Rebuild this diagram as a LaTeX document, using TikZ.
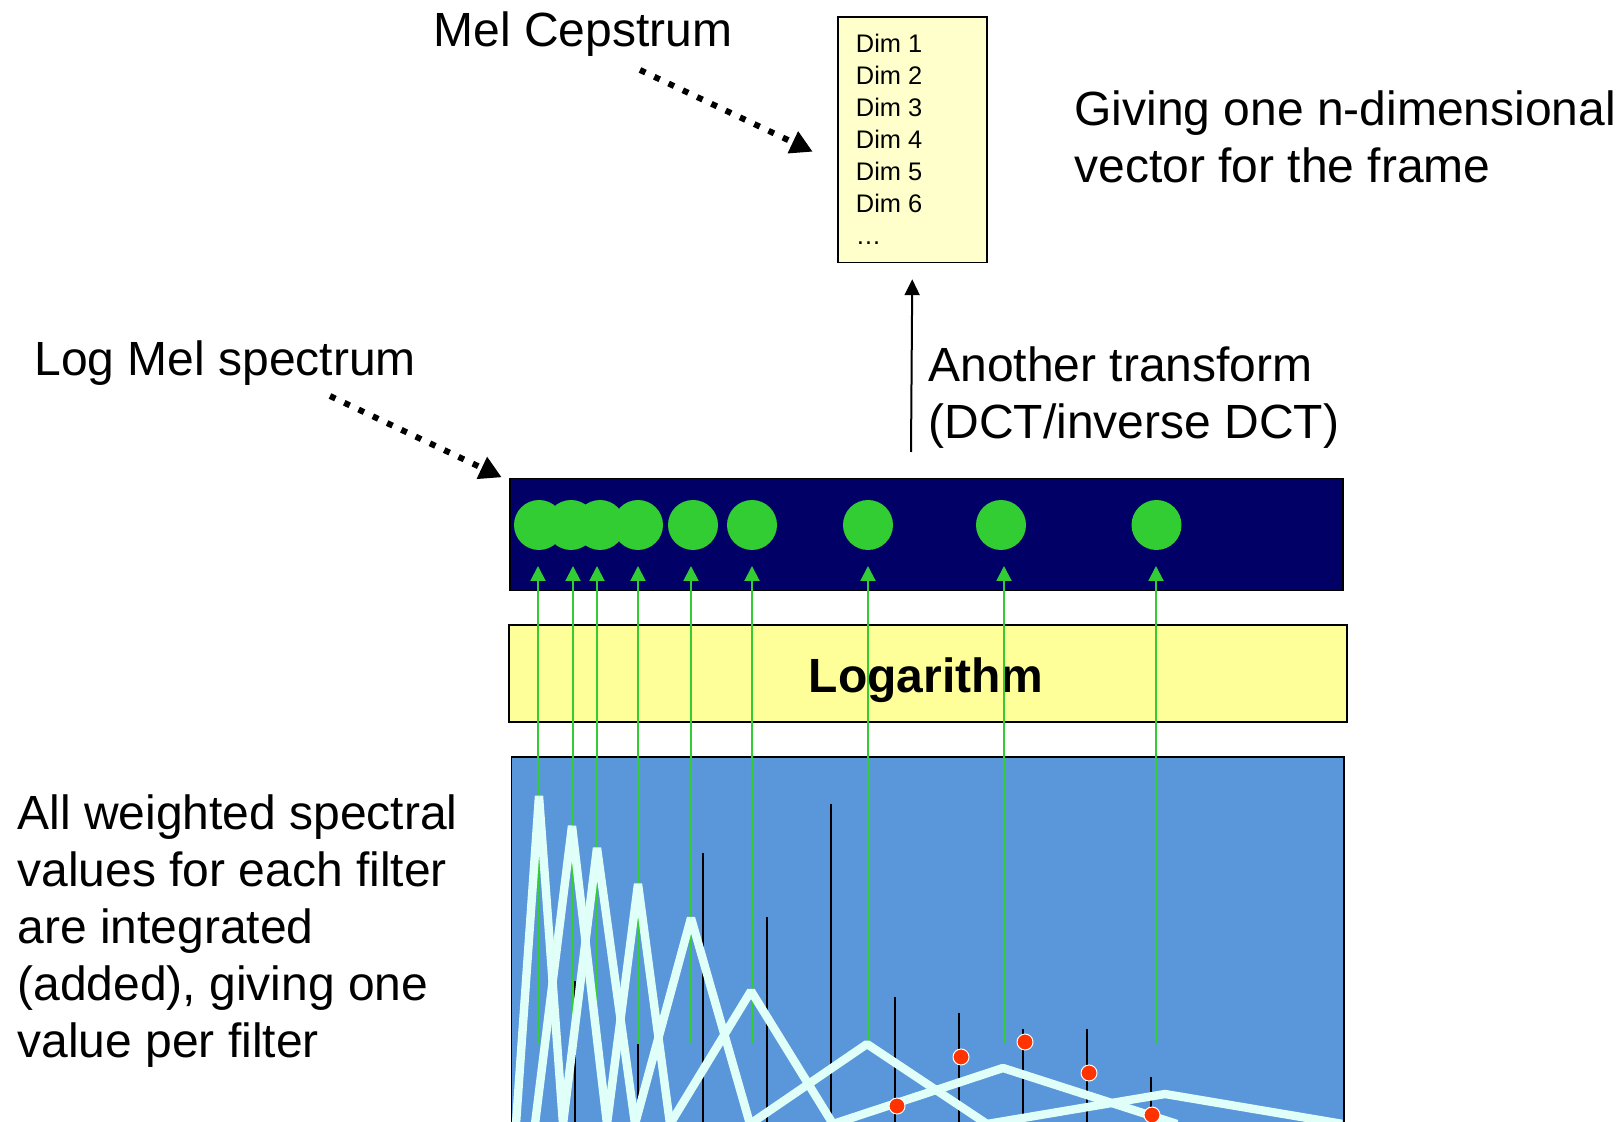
\documentclass[tikz,border=0pt]{standalone}
\usepackage{fontspec}
\setmainfont{Liberation Sans}
\usetikzlibrary{arrows.meta}
\definecolor{navybox}{RGB}{0,0,102}
\definecolor{limeg}{RGB}{50,205,50}
\definecolor{logyel}{RGB}{255,255,153}
\definecolor{cepyel}{RGB}{255,255,204}
\definecolor{specblue}{RGB}{89,150,218}
\definecolor{filtc}{RGB}{224,255,248}
\definecolor{dotred}{RGB}{255,51,0}
\begin{document}
\begin{tikzpicture}[x=0.5pt,y=-0.5pt,
  lbl/.style={font=\fontsize{24}{28.5}\selectfont, inner sep=0pt, align=left, anchor=base west},
  panel/.style={draw=black, line width=0.75pt, anchor=north west, inner sep=0pt},
  dotarrow/.style={line width=3pt, dash pattern=on 3pt off 4.9pt, -{Triangle[length=11pt,width=11.5pt]}},
  thinarrow/.style={line width=1pt, -{Triangle[length=8pt,width=7.5pt]}},
  garrow/.style={draw=limeg, line width=1pt, -{Triangle[length=7.5pt,width=7.5pt]}},
  gdot/.style={circle, fill=limeg, minimum size=25pt, inner sep=0pt},
  rdot/.style={circle, fill=dotred, draw=white, line width=0.5pt, minimum size=8pt, inner sep=0pt},
  specline/.style={draw=black, line width=0.9pt},
  filter/.style={draw=filtc, line width=4.2pt, line join=bevel}]
\fill[white] (0,0) rectangle (1622,1122);
\useasboundingbox (0,0) rectangle (1622,1122);

% labels (base anchor = baseline of last line)
\node[lbl] (melcep) at (433,46.5) {Mel Cepstrum};
\node[lbl] (logmel) at (34,376) {Log Mel spectrum};
\node[lbl] (giving) at (1074,182.5) {Giving one n-dimensional\\vector for the frame};
\node[lbl] (another) at (928,439) {Another transform\\(DCT/inverse DCT)};
\node[lbl] (allw) at (17,1057) {All weighted spectral\\values for each filter\\are integrated\\(added), giving one\\value per filter};

% cepstrum box
\node[panel, fill=cepyel, minimum width=74.5pt, minimum height=122.6pt] (cep) at (837,16.5) {};
\node[inner sep=0pt, align=left, anchor=base west, font=\fontsize{12.7}{16}\selectfont] (dims) at (855.5,245)
  {Dim 1\\Dim 2\\Dim 3\\Dim 4\\Dim 5\\Dim 6\\\dots};

% panels
\node[panel, fill=navybox, minimum width=416.5pt, minimum height=56pt] (melband) at (509,478) {};
\node[panel, fill=logyel, minimum width=419pt, minimum height=48.5pt] (logbox) at (508,624) {};
\node[lbl, font=\fontsize{24}{28.5}\selectfont\bfseries] (logtxt) at (808.5,692) {Logarithm};
\node[panel, fill=specblue, minimum width=416.15pt, minimum height=200pt] (spec) at (510.7,756) {};

% dotted arrows
\coordinate (mcs) at (640,70);
\coordinate (mce) at (812.7,151.7);
\draw[dotarrow] (mcs) -- (mce);
\coordinate (lms) at (330,396);
\coordinate (lme) at (501.7,477.3);
\draw[dotarrow] (lms) -- (lme);

% transform arrow
\coordinate (tstart) at (911,452);
\draw[thinarrow] (tstart) -- ([yshift=-8pt]cep.south);

% spectral sample lines
\begin{scope}
\clip (511,757) rectangle (1342.5,1122);
\foreach \x/\t in {575/981,638/917,703/853,767/917,831/804,895/997,959/1013,1023/1029,1087/1029,1151/1077}
  \draw[specline] (\x,\t) -- (\x,1140);
\end{scope}

% green outputs
\foreach \i/\x/\lx in {1/539/538,2/571/573,3/600/597,4/638/638,5/693/691,6/752/752,7/868/868,8/1001/1004,9/1156.5/1156}{
  \node[gdot] (c\i) at (\x,525) {};
  \coordinate (b\i) at (\lx,1044);
  \draw[garrow] (b\i) -- (\lx,566);
}

% filters
\begin{scope}
\clip (511,757) rectangle (1342.5,1122);
\draw[filter] (516,1124) -- (539,796) -- (563,1124);
\draw[filter] (535,1124) -- (572,826) -- (607,1124);
\draw[filter] (563,1124) -- (597,848) -- (635,1124);
\draw[filter] (607,1124) -- (638,884) -- (670,1124);
\draw[filter] (635,1124) -- (691,918) -- (750,1124);
\draw[filter] (670,1124) -- (751,991) -- (833,1124);
\draw[filter] (750,1124) -- (867,1044) -- (987,1124);
\draw[filter] (833,1124) -- (1003,1068) -- (1177,1124);
\draw[filter] (987,1124) -- (1165,1094) -- (1343,1124);
\end{scope}

% red sample dots
\node[rdot] (r1) at (897,1106) {};
\node[rdot] (r2) at (961,1057) {};
\node[rdot] (r3) at (1025,1042) {};
\node[rdot] (r4) at (1089,1073) {};
\node[rdot] (r5) at (1152,1115) {};
\end{tikzpicture}
\end{document}
